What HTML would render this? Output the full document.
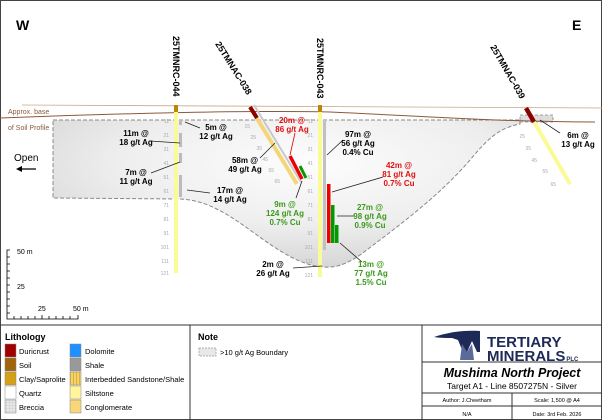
<!DOCTYPE html>
<html><head><style>
body{margin:0;width:602px;height:420px;overflow:hidden;background:#fff;font-family:"Liberation Sans",Arial,sans-serif}
svg{display:block}
.l{font-weight:bold;font-size:8px;text-anchor:middle}
.t{font-size:5px;fill:#aaa;text-anchor:end}
</style></head><body>
<svg width="602" height="420" viewBox="0 0 602 420" xmlns="http://www.w3.org/2000/svg" font-family="Liberation Sans, Arial, sans-serif">
<defs>
<radialGradient id="g" cx="0.55" cy="0.3" r="0.75">
<stop offset="0" stop-color="#fdfdfd"/><stop offset="0.55" stop-color="#eeeeee"/><stop offset="1" stop-color="#d2d2d2"/>
</radialGradient>
<pattern id="br" width="3" height="3" patternUnits="userSpaceOnUse"><rect width="3" height="3" fill="#e8e8e8"/><path d="M0 0H3M0 0V3" stroke="#bbb" stroke-width="0.6"/></pattern>
<pattern id="ib" width="3" height="3" patternUnits="userSpaceOnUse"><rect width="3" height="3" fill="#f5d26a"/><path d="M1.5 0V3" stroke="#c99a1a" stroke-width="0.6"/></pattern>
</defs>
<rect x="0.5" y="0.5" width="601" height="419" fill="none" stroke="#444"/>
<text x="16" y="30" font-size="14" font-weight="bold">W</text>
<text x="572" y="30" font-size="14" font-weight="bold">E</text>
<path d="M53 120 L520 120 L520 124 C500 128 490 136 470 160 C440 195 400 225 360 255 C345 265 335 268 323 267 C300 265 280 252 250 230 C225 212 205 200 180 199 L53 198 Z" fill="url(#g)" stroke="#888" stroke-width="1" stroke-dasharray="4,2"/>
<rect x="520" y="115" width="33" height="7" fill="#ddd" stroke="#888" stroke-dasharray="3,2" stroke-width="0.8"/>
<path d="M22 105 L602 108" stroke="#c8a88a" stroke-width="0.8" fill="none"/>
<path d="M0 118 C100 114 250 110 330 112 C420 116 500 122 595 122" stroke="#8b5a3c" stroke-width="1" fill="none"/>
<text x="8" y="114" font-size="7" fill="#8b5a3c">Approx. base</text>
<text x="8" y="130" font-size="7" fill="#8b5a3c">of Soil Profile</text>
<text x="14" y="161" font-size="10">Open</text>
<path d="M36 169 H18" stroke="#000" stroke-width="1.3"/><path d="M16 169 L22 166 L22 172 Z"/>
<rect x="174" y="105" width="4" height="168" fill="#fafa96"/>
<rect x="174" y="105" width="4" height="7" fill="#b8860b"/>
<g fill="#bbb"><rect x="179" y="120" width="3" height="5"/><rect x="179" y="133" width="3" height="14"/><rect x="179" y="153" width="3" height="10"/><rect x="179" y="175" width="3" height="22"/></g>
<g class="t"><text x="169" y="123">11</text><text x="169" y="137">21</text><text x="169" y="151">31</text><text x="169" y="165">41</text><text x="169" y="179">51</text><text x="169" y="193">61</text><text x="169" y="207">71</text><text x="169" y="221">81</text><text x="169" y="235">91</text><text x="169" y="249">101</text><text x="169" y="263">111</text><text x="169" y="275">121</text></g>
<text transform="translate(173,36) rotate(90)" font-size="9" font-weight="bold">25TMNRC-044</text>
<line x1="250" y1="107" x2="297" y2="184" stroke="#f5d57a" stroke-width="4"/>
<line x1="254" y1="105" x2="301" y2="182" stroke="#c8c8c8" stroke-width="2"/>
<line x1="250" y1="107" x2="257" y2="118" stroke="#8b0000" stroke-width="4"/>
<line x1="290" y1="156" x2="302" y2="179" stroke="#e00" stroke-width="3.5"/>
<line x1="300" y1="166" x2="306" y2="178" stroke="#090" stroke-width="3"/>
<text transform="translate(215,44) rotate(58)" font-size="9" font-weight="bold">25TMNAC-038</text>
<g class="t" transform="translate(-8,0)"><text x="258" y="128">15</text><text x="264" y="139">25</text><text x="270" y="150">35</text><text x="276" y="161">45</text><text x="282" y="172">55</text><text x="288" y="183">65</text></g>
<rect x="318" y="105" width="4" height="172" fill="#fafa96"/>
<rect x="318" y="105" width="4" height="7" fill="#b8860b"/>
<rect x="323" y="120" width="3" height="130" fill="#c0c0c0"/>
<rect x="327" y="184" width="3.5" height="59" fill="#e00"/>
<rect x="331" y="205" width="3.5" height="38" fill="#090"/>
<rect x="335" y="225" width="3.5" height="18" fill="#090"/>
<g class="t"><text x="313" y="123">11</text><text x="313" y="137">21</text><text x="313" y="151">31</text><text x="313" y="165">41</text><text x="313" y="179">51</text><text x="313" y="193">61</text><text x="313" y="207">71</text><text x="313" y="221">81</text><text x="313" y="235">91</text><text x="313" y="249">101</text><text x="313" y="263">111</text><text x="313" y="277">121</text></g>
<text transform="translate(317,38) rotate(90)" font-size="9" font-weight="bold">25TMNRC-043</text>
<line x1="526" y1="108" x2="570" y2="184" stroke="#fafa96" stroke-width="4"/>
<line x1="526" y1="108" x2="534" y2="122" stroke="#8b0000" stroke-width="4.5"/>
<g class="t"><text x="525" y="138">25</text><text x="531" y="150">35</text><text x="537" y="162">45</text><text x="548" y="173">55</text><text x="556" y="186">65</text></g>
<text transform="translate(490,47) rotate(60)" font-size="9" font-weight="bold">25TMNAC-039</text>
<g stroke="#222" stroke-width="0.8">
<line x1="185" y1="122" x2="200" y2="128"/><line x1="150" y1="141" x2="180" y2="143"/><line x1="151" y1="173" x2="180" y2="162"/><line x1="187" y1="190" x2="210" y2="193"/>
<line x1="260" y1="158" x2="275" y2="143"/><line x1="295" y1="133" x2="290" y2="155" stroke="#d00"/><line x1="296" y1="198" x2="302" y2="181"/>
<line x1="327" y1="155" x2="343" y2="140"/><line x1="332" y1="192" x2="383" y2="177"/><line x1="337" y1="216" x2="355" y2="216"/><line x1="340" y1="243" x2="362" y2="262"/>
<line x1="293" y1="268" x2="322" y2="266"/><line x1="540" y1="120" x2="560" y2="133"/>
</g>
<g class="l">
<text x="216" y="130">5m @</text><text x="216" y="139">12 g/t Ag</text>
<text x="136" y="136">11m @</text><text x="136" y="145">18 g/t Ag</text>
<text x="136" y="175">7m @</text><text x="136" y="184">11 g/t Ag</text>
<text x="230" y="193">17m @</text><text x="230" y="202">14 g/t Ag</text>
<text x="245" y="163">58m @</text><text x="245" y="172">49 g/t Ag</text>
<g fill="#e01010"><text x="292" y="123">20m @</text><text x="292" y="132">86 g/t Ag</text>
<text x="399" y="168">42m @</text><text x="399" y="177">81 g/t Ag</text><text x="399" y="186">0.7% Cu</text></g>
<g fill="#3a9a1a"><text x="285" y="207">9m @</text><text x="285" y="216">124 g/t Ag</text><text x="285" y="225">0.7% Cu</text>
<text x="370" y="210">27m @</text><text x="370" y="219">98 g/t Ag</text><text x="370" y="228">0.9% Cu</text>
<text x="371" y="267">13m @</text><text x="371" y="276">77 g/t Ag</text><text x="371" y="285">1.5% Cu</text></g>
<text x="358" y="137">97m @</text><text x="358" y="146">56 g/t Ag</text><text x="358" y="155">0.4% Cu</text>
<text x="273" y="267">2m @</text><text x="273" y="276">26 g/t Ag</text>
<text x="578" y="138">6m @</text><text x="578" y="147">13 g/t Ag</text>
</g>
<g stroke="#000" stroke-width="0.8" fill="none">
<path d="M10 250 H7 V319 H78 V315"/>
<path d="M7 257h3M7 264h3M7 271h3M7 278h3M7 285h3M7 292h3M7 299h3M7 306h3M7 313h3"/>
<path d="M14 319v-3M21 319v-3M28 319v-3M35 319v-3M42 319v-4M49 319v-3M56 319v-3M63 319v-3M70 319v-3"/>
</g>
<text x="17" y="254" font-size="7">50 m</text><text x="17" y="289" font-size="7">25</text>
<text x="38" y="311" font-size="7">25</text><text x="73" y="311" font-size="7">50 m</text>
<g stroke="#333" stroke-width="1" fill="none">
<line x1="0" y1="325" x2="602" y2="325"/><line x1="190" y1="325" x2="190" y2="420"/><line x1="422" y1="325" x2="422" y2="420"/>
<line x1="422" y1="362" x2="602" y2="362"/><line x1="422" y1="393" x2="602" y2="393"/><line x1="422" y1="406" x2="602" y2="406"/><line x1="512" y1="393" x2="512" y2="420"/>
</g>
<text x="5" y="340" font-size="9" font-weight="bold">Lithology</text>
<g stroke="#888" stroke-width="0.5">
<rect x="5" y="344" width="11" height="13" fill="#a00000"/><rect x="5" y="358" width="11" height="13" fill="#a0640a"/><rect x="5" y="372" width="11" height="13" fill="#d4a017"/><rect x="5" y="386" width="11" height="13" fill="#fff"/><rect x="5" y="400" width="11" height="13" fill="url(#br)"/>
<rect x="70" y="344" width="11" height="13" fill="#1e90ff"/><rect x="70" y="358" width="11" height="13" fill="#999"/><rect x="70" y="372" width="11" height="13" fill="url(#ib)"/><rect x="70" y="386" width="11" height="13" fill="#fff59a"/><rect x="70" y="400" width="11" height="13" fill="#f8d67a"/>
</g>
<g font-size="7.5">
<text x="19" y="354">Duricrust</text><text x="19" y="368">Soil</text><text x="19" y="382">Clay/Saprolite</text><text x="19" y="396">Quartz</text><text x="19" y="410">Breccia</text>
<text x="85" y="354">Dolomite</text><text x="85" y="368">Shale</text><text x="85" y="382">Interbedded Sandstone/Shale</text><text x="85" y="396">Siltstone</text><text x="85" y="410">Conglomerate</text>
</g>
<text x="198" y="340" font-size="9" font-weight="bold">Note</text>
<rect x="199" y="348" width="17" height="8" fill="#e8e8e8" stroke="#999" stroke-dasharray="2,1" stroke-width="0.7"/>
<text x="220" y="355" font-size="7.5">&gt;10 g/t Ag Boundary</text>
<path d="M434 337 C449 332 464 330 480 331 L480 352 L477 352 L472 341 L467 352 L463 352 L458 340 L452 338 C446 338 440 338 434 337 Z" fill="#1d2a57"/>
<path d="M462 344 L467 352 L472 344 L474 360 L460 360 Z" fill="#5a6b9a"/>
<text x="487" y="347" font-size="15" font-weight="bold" fill="#1d2a57">TERTIARY</text>
<text x="487" y="361" font-size="15" font-weight="bold" fill="#1d2a57">MINERALS<tspan font-size="6" dx="1">PLC</tspan></text>
<text x="512" y="377" font-size="12.5" font-weight="bold" font-style="italic" text-anchor="middle">Mushima North Project</text>
<text x="512" y="389" font-size="8.5" text-anchor="middle">Target A1 - Line 8507275N - Silver</text>
<g font-size="5.5" text-anchor="middle"><text x="467" y="402">Author: J.Cheetham</text><text x="557" y="402">Scale: 1,500 @ A4</text><text x="467" y="416">N/A</text><text x="557" y="416">Date: 3rd Feb. 2026</text></g>
</svg>
</body></html>
